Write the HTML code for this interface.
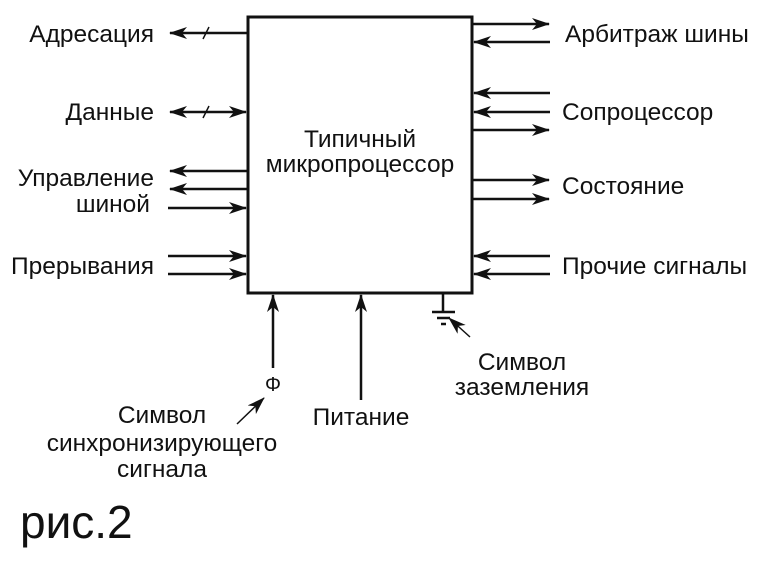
<!DOCTYPE html>
<html><head><meta charset="utf-8"><style>
body{margin:0;background:#fff}
svg text{font-family:"Liberation Sans",sans-serif;font-size:24.5px;fill:#111}
</style></head><body>
<svg width="760" height="563" viewBox="0 0 760 563" xmlns="http://www.w3.org/2000/svg">
<defs>
<marker id="a" markerWidth="18" markerHeight="12" refX="17" refY="6" orient="auto" markerUnits="userSpaceOnUse">
<path d="M0,0 L18,6 L0,12 L5,6 Z" fill="#111"/></marker>
<marker id="s" markerWidth="18" markerHeight="12" refX="1" refY="6" orient="auto" markerUnits="userSpaceOnUse">
<path d="M18,0 L0,6 L18,12 L13,6 Z" fill="#111"/></marker>
</defs>
<g stroke="#111" stroke-width="2.5" fill="none">
<rect x="248" y="17" width="224" height="276" stroke-width="3"/>
<line x1="247" y1="33" x2="170" y2="33" marker-end="url(#a)"/>
<line x1="203" y1="39" x2="209" y2="27" stroke-width="1.5"/>
<line x1="170" y1="112" x2="246" y2="112" marker-start="url(#s)" marker-end="url(#a)"/>
<line x1="203" y1="118" x2="209" y2="106" stroke-width="1.5"/>
<line x1="247" y1="171" x2="170" y2="171" marker-end="url(#a)"/>
<line x1="247" y1="189" x2="170" y2="189" marker-end="url(#a)"/>
<line x1="168" y1="208" x2="246" y2="208" marker-end="url(#a)"/>
<line x1="168" y1="256" x2="246" y2="256" marker-end="url(#a)"/>
<line x1="168" y1="274" x2="246" y2="274" marker-end="url(#a)"/>
<line x1="473" y1="24" x2="549" y2="24" marker-end="url(#a)"/>
<line x1="550" y1="42" x2="474" y2="42" marker-end="url(#a)"/>
<line x1="550" y1="93" x2="474" y2="93" marker-end="url(#a)"/>
<line x1="550" y1="112" x2="474" y2="112" marker-end="url(#a)"/>
<line x1="473" y1="130" x2="549" y2="130" marker-end="url(#a)"/>
<line x1="473" y1="180" x2="549" y2="180" marker-end="url(#a)"/>
<line x1="473" y1="199" x2="549" y2="199" marker-end="url(#a)"/>
<line x1="550" y1="256" x2="474" y2="256" marker-end="url(#a)"/>
<line x1="550" y1="274" x2="474" y2="274" marker-end="url(#a)"/>
<line x1="273" y1="368" x2="273" y2="295" marker-end="url(#a)"/>
<line x1="361" y1="400" x2="361" y2="295" marker-end="url(#a)"/>
<line x1="443" y1="294" x2="443" y2="312"/>
<line x1="432" y1="312" x2="455" y2="312"/>
<line x1="437" y1="318" x2="450" y2="318"/>
<line x1="441" y1="324" x2="446" y2="324"/>
<line x1="470" y1="337" x2="449" y2="318" stroke-width="1.5" marker-end="url(#a)"/>
<line x1="237" y1="424" x2="264" y2="398" stroke-width="1.5" marker-end="url(#a)"/>
</g>
<text x="360" y="147" text-anchor="middle">Типичный</text>
<text x="360" y="172" text-anchor="middle">микропроцессор</text>
<text x="154" y="42" text-anchor="end">Адресация</text>
<text x="154" y="120" text-anchor="end">Данные</text>
<text x="154" y="186" text-anchor="end">Управление</text>
<text x="150" y="212" text-anchor="end">шиной</text>
<text x="154" y="274" text-anchor="end">Прерывания</text>
<text x="565" y="42">Арбитраж шины</text>
<text x="562" y="120">Сопроцессор</text>
<text x="562" y="194">Состояние</text>
<text x="562" y="274">Прочие сигналы</text>
<text x="273" y="391" text-anchor="middle" style="font-size:20px">Φ</text>
<text x="162" y="423" text-anchor="middle">Символ</text>
<text x="162" y="451" text-anchor="middle">синхронизирующего</text>
<text x="162" y="477" text-anchor="middle">сигнала</text>
<text x="361" y="425" text-anchor="middle">Питание</text>
<text x="522" y="370" text-anchor="middle">Символ</text>
<text x="522" y="395" text-anchor="middle">заземления</text>
<text x="20" y="538" style="font-size:46px">рис.2</text>
</svg>
</body></html>
